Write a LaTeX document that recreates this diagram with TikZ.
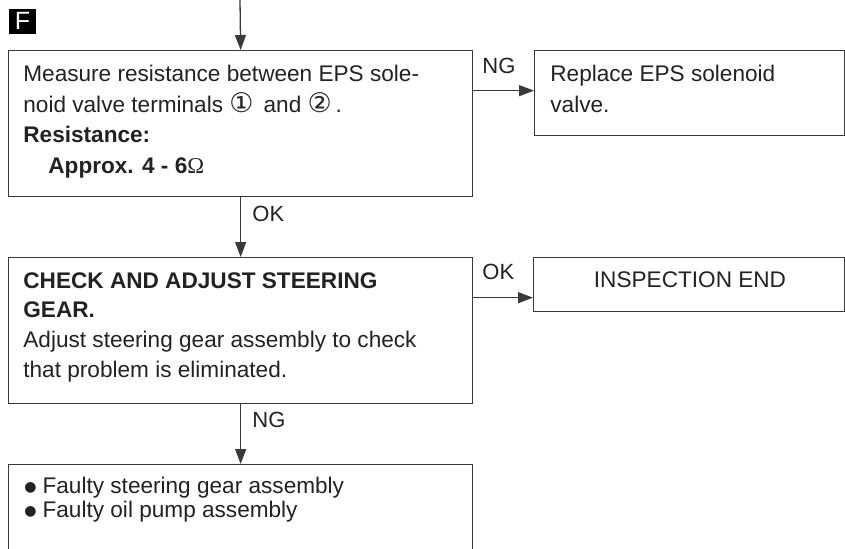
\documentclass[tikz,border=0pt]{standalone}
\usepackage{fontspec}
\setmainfont{Liberation Sans}
\newfontfamily\symfont{DejaVu Sans}
\newfontfamily\ohmfont{Liberation Serif}
\usepackage{tikz}
\usetikzlibrary{
    positioning,
    arrows.meta,
}
\definecolor{inkgray}{HTML}{222222}
\definecolor{linegray}{HTML}{3A3A3A}
\newcommand{\listdot}{\raisebox{1pt}{\symfont\fontsize{7}{7}\selectfont ●}\hspace{3pt}}
\newcommand{\termno}[1]{{\symfont\fontsize{13.5}{13.5}\selectfont #1}}
\tikzset{
    % Box styles
    box/.style={rectangle, draw=linegray, line width=0.65pt, anchor=north west,
                inner sep=0pt},
    boxtext/.style={anchor=base west, inner sep=0pt, align=left, text=inkgray,
                    font=\fontsize{11.3}{15.1}\selectfont},
    % Arrow styles
    arrow/.style={-{Triangle[length=7.5pt, width=5.5pt]}, line width=0.65pt, linegray},
    % Annotation styles
    answer/.style={anchor=base west, inner sep=0pt, text=inkgray,
                   font=\fontsize{11}{12}\selectfont},
}

\begin{document}
\begin{tikzpicture}[x=0.5pt, y=-0.5pt]
    \useasboundingbox (0,0) rectangle (845,548);

    % Badge
    \node[fill=black, text=white, inner sep=0pt, minimum width=13.5pt, minimum height=12.5pt,
          font=\fontsize{12.5}{12.5}\selectfont] (badge) at (22.5,21) {F};

    % Boxes
    \node[box, minimum width=232pt, minimum height=73pt] (measure) at (8,50) {};
    \node[box, minimum width=155pt, minimum height=42.5pt] (replace) at (534,50) {};
    \node[box, minimum width=232pt, minimum height=73pt] (check) at (8,257) {};
    \node[box, minimum width=155.5pt, minimum height=27pt] (done) at (533,257) {};
    \node[box, minimum width=232pt, minimum height=60pt] (faulty) at (8,464) {};

    % Box texts (anchored on the last line)
    \node[boxtext, font=\fontsize{11.3}{15.17}\selectfont] (measuretext) at (23,173)
        {Measure resistance between EPS sole-\\
        noid valve terminals \termno{①}\ \,and \termno{②}\,.\\
        \textbf{Resistance:}\\
        \hspace*{12.5pt}\textbf{Approx. 4 - 6}{\ohmfont Ω}};
    \node[boxtext] (replacetext) at (550,112) {Replace EPS solenoid\\valve.};
    \node[boxtext, font=\fontsize{11.3}{14.83}\selectfont] (checktext) at (23,377)
        {\textbf{CHECK AND ADJUST STEERING}\\
        \textbf{GEAR.}\\
        Adjust steering gear assembly to check\\
        that problem is eliminated.};
    \node[boxtext, anchor=base] (donetext) at (690,287) {INSPECTION END};
    \node[boxtext, font=\fontsize{11.3}{12}\selectfont] (faultytext) at (24,517)
        {\listdot Faulty steering gear assembly\\
        \listdot Faulty oil pump assembly};

    % Connectors
    \coordinate (entry) at (240,0);
    \draw[arrow] (entry) -- (measure.north);
    \draw[arrow] ([yshift=1.25pt]replace.west -| measure.east) -- ([yshift=1.25pt]replace.west);
    \draw[arrow] (measure.south) -- (check.north);
    \draw[arrow] ([yshift=-6.5pt]done.west -| check.east) -- ([yshift=-6.5pt]done.west);
    \draw[arrow] (check.south) -- (faulty.north);

    % Labels
    \node[answer] (ngtop) at (482,73) {NG};
    \node[answer] (oktop) at (252,221) {OK};
    \node[answer] (okside) at (482,279) {OK};
    \node[answer] (ngbottom) at (252,427) {NG};
\end{tikzpicture}
\end{document}
